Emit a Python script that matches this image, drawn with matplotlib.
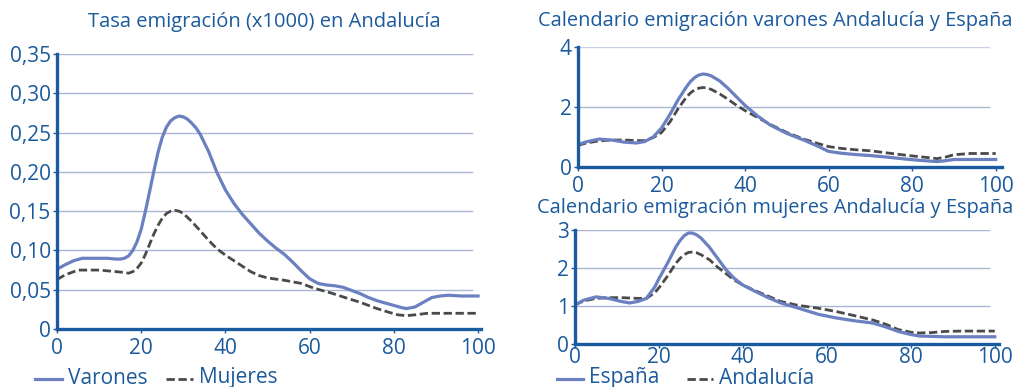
import matplotlib
matplotlib.use("Agg")
import matplotlib.pyplot as plt
from matplotlib.lines import Line2D

plt.rcParams['font.family'] = ['Open Sans', 'DejaVu Sans']

# ---- Tasa de emigración (x1000) en Andalucía ----
ages_var = [0, 2, 4, 6, 8, 10, 12, 14, 15, 16, 17, 18, 19, 20, 21, 22, 23, 24, 25, 26,
            27, 28, 29, 30, 31, 32, 33, 34, 36, 38, 40, 42, 44, 46, 48, 50, 52, 54, 56,
            58, 60, 62, 64, 66, 68, 70, 72, 74, 76, 78, 80, 82, 83, 85, 87, 89, 91,
            93, 96, 100]
tasa_varones = [0.076, 0.082, 0.087, 0.090, 0.090, 0.090, 0.090, 0.089, 0.089, 0.090,
                0.093, 0.100, 0.111, 0.127, 0.150, 0.175, 0.201, 0.225, 0.244, 0.257,
                0.265, 0.269, 0.271, 0.270, 0.267, 0.262, 0.256, 0.248, 0.226, 0.199,
                0.177, 0.160, 0.146, 0.134, 0.122, 0.112, 0.103, 0.095, 0.085, 0.074,
                0.064, 0.058, 0.056, 0.055, 0.053, 0.049, 0.045, 0.040, 0.036, 0.033,
                0.030, 0.027, 0.026, 0.028, 0.034, 0.040, 0.042, 0.043, 0.042, 0.042]

ages_muj = [0, 2, 5, 8, 10, 12, 14, 16, 17, 18, 19, 20, 21, 22, 23, 24, 25, 26, 27, 28,
            29, 30, 32, 34, 36, 38, 40, 42, 44, 46, 48, 50, 54, 58, 61, 65, 69, 72,
            76, 79, 81, 83, 85, 88, 92, 100]
tasa_mujeres = [0.063, 0.069, 0.075, 0.075, 0.075, 0.074, 0.073, 0.072, 0.071, 0.073,
                0.077, 0.084, 0.095, 0.108, 0.121, 0.132, 0.141, 0.147, 0.150, 0.151,
                0.150, 0.147, 0.137, 0.125, 0.113, 0.102, 0.094, 0.087, 0.080, 0.073,
                0.068, 0.065, 0.062, 0.058, 0.052, 0.046, 0.039, 0.034, 0.026, 0.021,
                0.018, 0.017, 0.018, 0.020, 0.020, 0.020]

# ---- Calendario emigración varones ----
ages_cv = [0, 2, 5, 8, 11, 14, 16, 18, 20, 22, 24, 26, 27, 28, 29, 30, 31, 32, 34, 36,
           38, 40, 43, 46, 50, 54, 57, 60, 63, 66, 70, 74, 78, 82, 86, 88, 90, 94, 100]
esp_varones = [0.75, 0.84, 0.93, 0.90, 0.83, 0.80, 0.85, 1.00, 1.30, 1.75, 2.25, 2.68,
               2.86, 2.99, 3.07, 3.10, 3.08, 3.03, 2.86, 2.61, 2.33, 2.05, 1.70, 1.40,
               1.12, 0.90, 0.72, 0.52, 0.46, 0.42, 0.38, 0.33, 0.27, 0.22, 0.18, 0.21,
               0.25, 0.25, 0.25]
and_varones = [0.72, 0.80, 0.87, 0.90, 0.90, 0.88, 0.88, 0.98, 1.15, 1.50, 1.95, 2.34,
               2.48, 2.58, 2.63, 2.65, 2.63, 2.58, 2.43, 2.25, 2.05, 1.88, 1.65, 1.42,
               1.15, 0.93, 0.80, 0.68, 0.62, 0.58, 0.54, 0.47, 0.40, 0.34, 0.28, 0.33,
               0.41, 0.45, 0.45]

# ---- Calendario emigración mujeres ----
ages_cm = [0, 2, 5, 8, 11, 13, 15, 17, 19, 20, 22, 24, 25, 26, 27, 28, 29, 30, 32, 34,
           36, 38, 40, 43, 46, 49, 53, 58, 62, 66, 71, 74, 77, 80, 82, 85, 88, 92, 100]
esp_mujeres = [1.03, 1.15, 1.24, 1.20, 1.12, 1.08, 1.12, 1.20, 1.50, 1.72, 2.12, 2.55,
               2.72, 2.85, 2.92, 2.92, 2.87, 2.79, 2.55, 2.25, 1.95, 1.72, 1.55, 1.38,
               1.22, 1.08, 0.95, 0.78, 0.69, 0.62, 0.55, 0.45, 0.33, 0.25, 0.21, 0.20,
               0.19, 0.19, 0.19]
and_mujeres = [1.03, 1.13, 1.20, 1.22, 1.22, 1.21, 1.20, 1.20, 1.35, 1.48, 1.78, 2.12,
               2.25, 2.35, 2.41, 2.42, 2.40, 2.35, 2.22, 2.02, 1.85, 1.68, 1.55, 1.40,
               1.26, 1.12, 1.02, 0.94, 0.86, 0.76, 0.63, 0.52, 0.38, 0.31, 0.29, 0.30,
               0.33, 0.34, 0.34]

left_ticks = [0, 0.05, 0.10, 0.15, 0.20, 0.25, 0.30, 0.35]
left_labels = ['0', '0,05', '0,10', '0,15', '0,20', '0,25', '0,30', '0,35']
x_ticks = [0, 20, 40, 60, 80, 100]

TXT = '#1b5a9c'
AXIS = '#1a5aa0'
GRID = '#a9b6d6'
SOLID = '#6a80c0'
DASH = '#4a4a4a'
DASHES = (3.0, 1.3)

fig = plt.figure(figsize=(10.29, 3.87), dpi=100)


def style(ax, xmax, ymax, yticks, ylabels, xpad, top_grid=GRID):
    ax.set_xlim(0, xmax)
    ax.set_ylim(0, ymax)
    ax.set_xticks(x_ticks)
    ax.set_yticks(yticks)
    ax.set_yticklabels(ylabels)
    for s in ('top', 'right'):
        ax.spines[s].set_visible(False)
    for s in ('left', 'bottom'):
        ax.spines[s].set_color(AXIS)
        ax.spines[s].set_linewidth(2.4)
    ax.tick_params(colors=AXIS, labelcolor=TXT, labelsize=15, length=3, width=1)
    ax.tick_params(axis='x', pad=xpad)
    ax.tick_params(axis='y', pad=1.5)
    ax.set_axisbelow(True)
    for yv in yticks[1:]:
        c = top_grid if yv == yticks[-1] else GRID
        ax.axhline(yv, xmin=0, xmax=98.5 / xmax, color=c, lw=1.0, zorder=0)
    ax.patch.set_alpha(0)


# left chart
ax1 = fig.add_axes([57 / 1029, 1 - 329 / 387, 424 / 1029, 275 / 387])
style(ax1, 100.7, 0.35, left_ticks, left_labels, xpad=3.5)
ax1.plot(ages_var, tasa_varones, color=SOLID, lw=2.3, solid_joinstyle='round')
ax1.plot(ages_muj, tasa_mujeres, color=DASH, lw=2.0, dashes=DASHES)
fig.text(264 / 1029, 1 - 22 / 387, 'Tasa emigración (x1000) en Andalucía',
         color=TXT, fontsize=14.5, ha='center', va='center')

# top right chart
ax2 = fig.add_axes([578 / 1029, 1 - 167 / 387, 424 / 1029, 120 / 387])
style(ax2, 101.5, 4, [0, 2, 4], ['0', '2', '4'], xpad=3.5, top_grid='#c9d1e8')
ax2.plot(ages_cv, and_varones, color=DASH, lw=2.0, dashes=DASHES)
ax2.plot(ages_cv, esp_varones, color=SOLID, lw=2.3)
fig.text(775 / 1029, 1 - 21 / 387, 'Calendario emigración varones Andalucía y España',
         color=TXT, fontsize=14.4, ha='center', va='center')

# bottom right chart
ax3 = fig.add_axes([575 / 1029, 1 - 344 / 387, 424 / 1029, 114 / 387])
style(ax3, 101, 3, [0, 1, 2, 3], ['0', '1', '2', '3'], xpad=-1)
ax3.plot(ages_cm, and_mujeres, color=DASH, lw=2.0, dashes=DASHES)
ax3.plot(ages_cm, esp_mujeres, color=SOLID, lw=2.3)
fig.text(775 / 1029, 1 - 208 / 387, 'Calendario emigración mujeres Andalucía y España',
         color=TXT, fontsize=14.4, ha='center', va='center')


def legend_item(x0, x1, y, style_kw, label):
    fig.add_artist(Line2D([x0 / 1029, x1 / 1029], [1 - y / 387, 1 - y / 387],
                          transform=fig.transFigure, **style_kw))
    fig.text((x1 + 6) / 1029, 1 - (y - 1) / 387, label, color=TXT, fontsize=15,
             va='center', ha='left')


solid_kw = dict(color=SOLID, lw=2.3)
dash_kw = dict(color=DASH, lw=2.0, dashes=DASHES)
legend_item(35, 62, 379, solid_kw, 'Varones')
legend_item(166, 193, 379, dash_kw, 'Mujeres')
legend_item(557, 583, 379, solid_kw, 'España')
legend_item(687, 713, 379, dash_kw, 'Andalucía')

fig.savefig('out.png', dpi=100)
